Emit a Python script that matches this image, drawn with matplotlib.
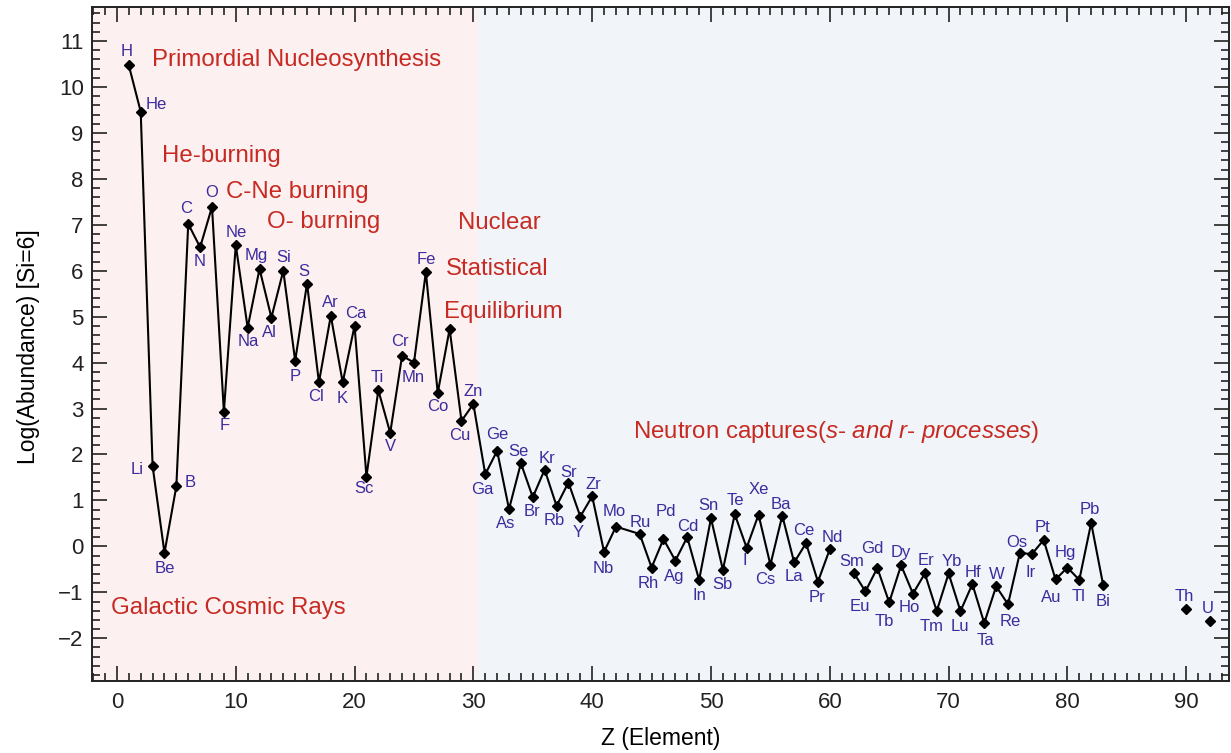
import numpy as np
import matplotlib
matplotlib.use("Agg")
import matplotlib.pyplot as plt
from matplotlib.ticker import MultipleLocator

plt.rcParams['font.family'] = ['Liberation Sans', 'DejaVu Sans']
plt.rcParams['mathtext.fontset'] = 'custom'
plt.rcParams['mathtext.rm'] = 'Liberation Sans'
plt.rcParams['mathtext.it'] = 'Liberation Sans:italic'

# ---- data ----
symbols = ["H", "He", "Li", "Be", "B", "C", "N", "O", "F", "Ne",
           "Na", "Mg", "Al", "Si", "P", "S", "Cl", "Ar", "K", "Ca",
           "Sc", "Ti", "V", "Cr", "Mn", "Fe", "Co", "Ni", "Cu", "Zn",
           "Ga", "Ge", "As", "Se", "Br", "Kr", "Rb", "Sr", "Y", "Zr",
           "Nb", "Mo", "Ru", "Rh", "Pd", "Ag", "Cd", "In", "Sn", "Sb",
           "Te", "I", "Xe", "Cs", "Ba", "La", "Ce", "Pr", "Nd", "Pm",
           "Sm", "Eu", "Gd", "Tb", "Dy", "Ho", "Er", "Tm", "Yb", "Lu",
           "Hf", "Ta", "W", "Re", "Os", "Ir", "Pt", "Au", "Hg", "Tl",
           "Pb", "Bi"]
z_values = [1, 2, 3, 4, 5, 6, 7, 8, 9, 10,
            11, 12, 13, 14, 15, 16, 17, 18, 19, 20,
            21, 22, 23, 24, 25, 26, 27, 28, 29, 30,
            31, 32, 33, 34, 35, 36, 37, 38, 39, 40,
            41, 42, 44, 45, 46, 47, 48, 49, 50, 51,
            52, 53, 54, 55, 56, 57, 58, 59, 60, 61,
            62, 63, 64, 65, 66, 67, 68, 69, 70, 71,
            72, 73, 74, 75, 76, 77, 78, 79, 80, 81,
            82, 83]
log_abundance = [10.47, 9.46, 1.75, -0.14, 1.31, 7.02, 6.51, 7.39, 2.93, 6.56,
                 4.76, 6.04, 4.98, 6.00, 4.04, 5.72, 3.57, 5.02, 3.57, 4.80,
                 1.52, 3.40, 2.47, 4.15, 4.00, 5.97, 3.34, 4.73, 2.73, 3.10,
                 1.57, 2.08, 0.81, 1.81, 1.07, 1.67, 0.88, 1.39, 0.65, 1.09,
                 -0.12, 0.43, 0.27, -0.46, 0.16, -0.31, 0.20, -0.73, 0.61, -0.51,
                 0.70, -0.03, 0.69, -0.40, 0.67, -0.35, 0.07, -0.77, -0.06, None,
                 -0.57, -0.98, -0.47, -1.22, -0.41, -1.03, -0.59, -1.41, -0.59, -1.41,
                 -0.82, -1.67, -0.87, -1.26, -0.14, -0.17, 0.14, -0.72, -0.46, -0.73,
                 0.51, -0.83]
actinide_symbols = ["Th", "U"]
actinide_z = [90, 92]
actinide_abundance = [-1.37, -1.63]

# ---- label offsets (pixels) ----
label_offsets = {
    "H": (-2, 14), "He": (16, 7), "Li": (-15, -4), "Be": (0, -16), "B": (14, 4),
    "C": (-2, 15), "N": (0, -14), "O": (0, 14), "F": (1, -14), "Ne": (0, 12),
    "Na": (1, -14), "Mg": (-3, 13), "Al": (-2, -15), "Si": (0, 13), "P": (0, -16),
    "S": (-3, 12), "Cl": (-3, -14), "Ar": (0, 13), "K": (0, -16), "Ca": (1, 12),
    "Sc": (-2, -12), "Ti": (-1, 13), "V": (0, -14), "Cr": (-2, 14), "Mn": (-1, -15),
    "Fe": (0, 13), "Co": (0, -14), "Cu": (-2, -15), "Zn": (0, 12),
    "Ga": (-3, -15), "Ge": (0, 16), "As": (-3, -14), "Se": (-2, 12), "Br": (-1, -14),
    "Kr": (2, 11), "Rb": (-2, -15), "Sr": (0, 10), "Y": (-2, -16), "Zr": (1, 12),
    "Nb": (-1, -17), "Mo": (-2, 15), "Ru": (1, 11), "Rh": (-3, -16), "Pd": (2, 28),
    "Ag": (-1, -16), "Cd": (1, 11), "In": (0, -16), "Sn": (-3, 13), "Sb": (0, -15),
    "Te": (1, 14), "I": (-2, -13), "Xe": (0, 25), "Cs": (-5, -15), "Ba": (-1, 11),
    "La": (0, -14), "Ce": (-2, 13), "Pr": (-1, -16), "Nd": (3, 12), "Sm": (-2, 11),
    "Eu": (-6, -15), "Gd": (-5, 19), "Tb": (-5, -19), "Dy": (0, 13), "Ho": (-4, -14),
    "Er": (1, 13), "Tm": (-5, -15), "Yb": (3, 12), "Lu": (-1, -15), "Hf": (1, 12),
    "Ta": (1, -17), "W": (1, 12), "Re": (2, -17), "Os": (-3, 10), "Ir": (-1, -18),
    "Pt": (-1, 12), "Au": (-4, -18), "Hg": (-2, 15), "Tl": (-1, -17), "Pb": (-1, 13),
    "Bi": (0, -17), "Th": (-2, 13), "U": (-2, 13),
}

label_color = "#3b2c9e"
red = "#c62a22"

fig = plt.figure(figsize=(12.31, 7.53), dpi=100)
ax = fig.add_axes([92 / 1231, 1 - 681 / 753, (1229 - 92) / 1231, (681 - 7) / 753])

xmin, xmax = -2.1, 93.6
ymin, ymax = -2.93, 11.74
ax.set_xlim(xmin, xmax)
ax.set_ylim(ymin, ymax)

ax.axvspan(xmin, 30.4, color="#fdf0f0", zorder=0, lw=0)
ax.axvspan(30.4, xmax, color="#f1f4f8", zorder=0, lw=0)

y_arr = np.array([np.nan if v is None else v for v in log_abundance], dtype=float)
ax.plot(z_values, y_arr, color="black", lw=1.5, marker="D", ms=5,
        mfc="black", mec="black", zorder=3)
ax.plot(actinide_z, actinide_abundance, ls="none", marker="D", ms=5,
        color="black", zorder=3)

for s, z, v in list(zip(symbols, z_values, log_abundance)) + list(zip(actinide_symbols, actinide_z, actinide_abundance)):
    if v is None or s not in label_offsets:
        continue
    dx, dy = label_offsets[s]
    ax.annotate(s, (z, v), xytext=(dx, dy), textcoords="offset pixels",
                ha="center", va="center", color=label_color, fontsize=12, zorder=4)

# process annotations
fs = 17.3
ax.text(2.97, 10.58, "Primordial Nucleosynthesis", color=red, fontsize=fs, va="center", ha="left")
ax.text(3.81, 8.49, "He-burning", color=red, fontsize=fs, va="center", ha="left")
ax.text(9.2, 7.71, "C-Ne burning", color=red, fontsize=fs, va="center", ha="left")
ax.text(12.65, 7.05, "O- burning", color=red, fontsize=fs, va="center", ha="left")
ax.text(28.7, 7.03, "Nuclear", color=red, fontsize=fs, va="center", ha="left")
ax.text(27.7, 6.03, "Statistical", color=red, fontsize=fs, va="center", ha="left")
ax.text(27.5, 5.10, "Equilibrium", color=red, fontsize=fs, va="center", ha="left")
ax.text(-0.48, -1.34, "Galactic Cosmic Rays", color=red, fontsize=fs, va="center", ha="left")
ax.text(43.4, 2.49, r"Neutron captures($\it{s}$- $\it{and\ r}$- $\it{processes}$)",
        color=red, fontsize=fs, va="center", ha="left")

ax.xaxis.set_major_locator(MultipleLocator(10))
ax.xaxis.set_minor_locator(MultipleLocator(1))
ax.yaxis.set_major_locator(MultipleLocator(1))
ax.yaxis.set_minor_locator(MultipleLocator(0.2))
ax.tick_params(which="both", direction="in", top=True, right=True, width=1.2, colors="#222222")
ax.tick_params(which="major", length=11, labelsize=16)
ax.tick_params(axis="x", which="major", pad=8)
ax.tick_params(axis="y", which="major", pad=6)
ax.tick_params(which="minor", length=5.5)
for sp in ax.spines.values():
    sp.set_linewidth(1.4)
    sp.set_color("#222222")

ax.set_xlabel("Z (Element)", fontsize=16.5)
ax.set_ylabel("Log(Abundance) [Si=6]", fontsize=16.5)
ax.xaxis.set_label_coords(0.5, -0.068)
ax.yaxis.set_label_coords(-0.046, 0.496)

fig.savefig("out.png", dpi=100)
